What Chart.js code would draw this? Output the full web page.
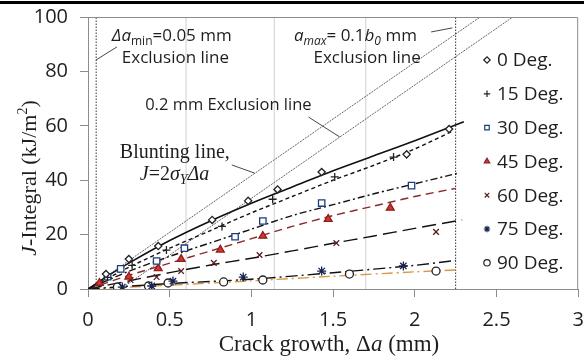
<!DOCTYPE html>
<html>
<head>
<meta charset="utf-8">
<script src="https://cdn.jsdelivr.net/npm/chart.js@4.4.1/dist/chart.umd.min.js"></script>
<style>
  html, body { margin: 0; padding: 0; background: #fff; }
  canvas { display: block; }
</style>
</head>
<body>
<canvas id="c" width="584" height="358"></canvas>
<script>
// measured points, [crack growth mm, J kJ/m2]
const labels = ['0 Deg.', '15 Deg.', '30 Deg.', '45 Deg.', '60 Deg.', '75 Deg.', '90 Deg.']
const pts0 = [[0.11, 5.5], [0.25, 11], [0.43, 15.8], [0.76, 25.4], [0.98, 32.4], [1.16, 36.6], [1.43, 43], [1.95, 49.5], [2.21, 58.8]]
const pts15 = [[0.12, 4.3], [0.27, 8.7], [0.48, 14.3], [0.82, 23], [1.13, 33], [1.51, 41.2], [1.87, 48.5]]
const pts30 = [[0.12, 4.5], [0.2, 7.4], [0.42, 10.3], [0.59, 15], [0.9, 19.2], [1.07, 25], [1.43, 31.6], [1.98, 38]]
const pts45 = [[0.07, 2.2], [0.25, 4.5], [0.43, 7.6], [0.57, 11], [0.81, 14.4], [1.07, 19.5], [1.47, 25.7], [1.85, 29.8]]
const pts60 = [[0.26, 3.3], [0.42, 4.4], [0.57, 6.6], [0.77, 9.6], [1.05, 12.5], [1.52, 16.9], [2.13, 21]]
const pts75 = [[0.21, 0.7], [0.39, 1.1], [0.52, 2.9], [0.95, 4.4], [1.43, 6.6], [1.93, 8.5]]
const pts90 = [[0.18, 0.7], [0.37, 1.1], [0.49, 2.2], [0.83, 2.6], [1.07, 3.3], [1.6, 5.5], [2.13, 6.6]]

// fitted curves
const fit0 = [[0, 0], [0.1, 4], [0.25, 9.5], [0.5, 17.8], [0.75, 25], [1, 31.5], [1.25, 37.5], [1.5, 43.5], [1.75, 49], [2, 54.5], [2.3, 61.5]]
const fit15 = [[0, 0], [0.25, 8], [0.5, 15], [0.75, 21.5], [1, 28], [1.25, 34], [1.5, 40], [1.75, 45.5], [2, 51.5], [2.23, 58]]
const fit30 = [[0, 0], [0.25, 6.5], [0.5, 12], [0.75, 17], [1, 22], [1.25, 27], [1.5, 31], [1.75, 35], [2, 38.7], [2.26, 42.5]]
const fit45 = [[0, 0], [0.25, 5], [0.5, 9.5], [0.75, 14], [1, 18.5], [1.25, 23], [1.5, 27], [1.75, 30.5], [2, 34], [2.25, 37]]
const fit60 = [[0, 0], [0.25, 3], [0.5, 6], [0.75, 8.8], [1, 11.3], [1.25, 14], [1.5, 16.8], [1.75, 19.5], [2, 22.3], [2.29, 25.4]]
const fit75 = [[0, 0], [0.5, 2], [1, 3.6], [1.5, 6], [2, 8.7], [2.25, 10.5]]
const fit90 = [[0, 0], [0.5, 1.4], [1, 3], [1.5, 4.7], [2, 6.3], [2.25, 7]]

// construction lines
const blunting = [[0, 0], [2.4, 100]]
const excl02 = [[0.2, 0], [2.6, 100]]
const exclMin = 0.05
const exclMax = 2.25
const greyLines = [0.6, 1.14, 1.7]

const xTicks = [0, 0.5, 1, 1.5, 2, 2.5, 3]
const yTicks = [0, 20, 40, 60, 80, 100]

const SANS = '"Open Sans", sans-serif'
const SERIF = '"Liberation Serif", "DejaVu Serif", serif'
const INK = '#1e1e1e'

const styles = [
  { marker: 'rectRot', mColor: '#222', fill: '#fff', r: 3.6, line: '#111', width: 1.6, dash: [] },
  { marker: 'cross', mColor: '#222', fill: '#fff', r: 4, line: '#111', width: 1.4, dash: [4, 3] },
  { marker: 'rect', mColor: '#1f3b80', fill: '#fff', r: 4.5, line: '#111', width: 1.4, dash: [7, 3, 2, 3] },
  { marker: 'triangle', mColor: '#8b1e1e', fill: '#d9342b', r: 4.5, line: '#8c2a2a', width: 1.4, dash: [8, 5] },
  { marker: 'crossRot', mColor: '#5a1e1e', fill: '#fff', r: 4, line: '#111', width: 1.4, dash: [14, 6] },
  { marker: 'star', mColor: '#1a2350', fill: '#fff', r: 4.5, line: '#111', width: 1.4, dash: [12, 4, 2, 4] },
  { marker: 'circle', mColor: '#222', fill: '#fff', r: 4, line: '#d49a4a', width: 1.4, dash: [11, 4, 2, 4] }
]

const allPts = [pts0, pts15, pts30, pts45, pts60, pts75, pts90]
const allFits = [fit0, fit15, fit30, fit45, fit60, fit75, fit90]

const xy = arr => arr.map(p => ({ x: p[0], y: p[1] }))

const datasets = []
greyLines.forEach(v => datasets.push({
  data: [{ x: v, y: 0 }, { x: v, y: 100 }], showLine: true, pointRadius: 0,
  borderColor: '#d0d0d0', borderWidth: 1, order: 50
}))
;[exclMin, exclMax].forEach(v => datasets.push({
  data: [{ x: v, y: 0 }, { x: v, y: 100 }], showLine: true, pointRadius: 0,
  borderColor: '#333', borderWidth: 1, borderDash: [1.5, 1.5], order: 40
}))
;[blunting, excl02].forEach(l => datasets.push({
  data: xy(l), showLine: true, pointRadius: 0,
  borderColor: '#555', borderWidth: 0.9, borderDash: [2, 1], order: 40
}))
allFits.forEach((f, i) => datasets.push({
  data: xy(f), showLine: true, pointRadius: 0, tension: 0.3,
  borderColor: styles[i].line, borderWidth: styles[i].width, borderDash: styles[i].dash, order: 20
}))
allPts.forEach((p, i) => datasets.push({
  label: labels[i], data: xy(p), showLine: false,
  pointStyle: styles[i].marker, pointRadius: styles[i].r,
  pointBorderColor: styles[i].mColor, pointBackgroundColor: styles[i].fill,
  pointBorderWidth: 1.3, order: 1, legendIdx: i
}))

function rich(ctx, x, y, segs, align) {
  let w = 0
  segs.forEach(s => { ctx.font = s.f; w += ctx.measureText(s.t).width })
  let cx = align === 'center' ? x - w / 2 : x
  segs.forEach(s => {
    ctx.font = s.f
    ctx.fillText(s.t, cx, y + (s.dy || 0))
    cx += ctx.measureText(s.t).width
  })
}

const sans = (sz, it) => (it ? 'italic ' : '') + sz + 'px ' + SANS
const serif = (sz, it) => (it ? 'italic ' : '') + sz + 'px ' + SERIF

// text notes in data coordinates
const notes = [
  { x: 0.146, y: 91.2, segs: [{ t: 'Δ', f: sans(17, true) }, { t: 'a', f: sans(17, true) }, { t: 'min', f: sans(12), dy: 4 }, { t: '=0.05 mm', f: sans(17) }] },
  { x: 0.207, y: 83, segs: [{ t: 'Exclusion line', f: sans(17) }] },
  { x: 1.26, y: 91.2, segs: [{ t: 'a', f: sans(17, true) }, { t: 'max', f: sans(12, true), dy: 4 }, { t: '= 0.1', f: sans(17) }, { t: 'b', f: sans(17, true) }, { t: '0', f: sans(12, true), dy: 4 }, { t: ' mm', f: sans(17) }] },
  { x: 1.38, y: 83, segs: [{ t: 'Exclusion line', f: sans(17) }] },
  { x: 0.35, y: 65.8, segs: [{ t: '0.2 mm Exclusion line', f: sans(16.5) }] },
  { x: 0.195, y: 48, segs: [{ t: 'Blunting line,', f: serif(20) }] },
  { x: 0.317, y: 40, segs: [{ t: 'J', f: serif(20, true) }, { t: '=2', f: serif(20) }, { t: 'σ', f: serif(20, true) }, { t: 'Y', f: serif(14, true), dy: 4 }, { t: 'Δa', f: serif(20, true) }] }
]
const leaders = [
  [[0.049, 84.2], [0.177, 89]],
  [[2.1, 94.5], [2.23, 96]],
  [[1.35, 63.2], [1.54, 55.9]],
  [[0.88, 45.6], [1.02, 42.6]]
]

const decor = {
  id: 'decor',
  beforeDraw(chart) {
    const ctx = chart.ctx
    ctx.save()
    ctx.fillStyle = '#000'
    ctx.fillRect(0, 1, chart.width, 3)
    ctx.restore()
  },
  afterDraw(chart) {
    const { ctx, chartArea: a, scales: { x, y } } = chart
    ctx.save()
    // box top and right
    ctx.strokeStyle = '#8c8c8c'
    ctx.lineWidth = 1
    ctx.beginPath()
    ctx.moveTo(a.left, a.top + 0.5); ctx.lineTo(a.right - 0.5, a.top + 0.5); ctx.lineTo(a.right - 0.5, a.bottom)
    ctx.stroke()

    ctx.strokeStyle = '#333'
    ctx.lineWidth = 0.9
    leaders.forEach(l => {
      ctx.beginPath()
      ctx.moveTo(x.getPixelForValue(l[0][0]), y.getPixelForValue(l[0][1]))
      ctx.lineTo(x.getPixelForValue(l[1][0]), y.getPixelForValue(l[1][1]))
      ctx.stroke()
    })

    ctx.fillStyle = INK
    ctx.textBaseline = 'alphabetic'
    ctx.textAlign = 'left'
    notes.forEach(n => rich(ctx, x.getPixelForValue(n.x), y.getPixelForValue(n.y), n.segs))

    // legend
    const h = Chart.helpers
    chart.data.datasets.forEach(ds => {
      if (ds.legendIdx === undefined) return
      const i = ds.legendIdx
      const cy = 60 + i * 33.8
      ctx.strokeStyle = ds.pointBorderColor
      ctx.fillStyle = ds.pointBackgroundColor
      ctx.lineWidth = 1.2
      h.drawPoint(ctx, { pointStyle: ds.pointStyle, radius: 3.2, rotation: 0, borderWidth: 1.2 }, 487, cy)
      ctx.fillStyle = INK
      ctx.font = sans(19)
      ctx.textBaseline = 'middle'
      ctx.fillText(ds.label, 497, cy + 1)
    })

    // axis titles
    ctx.textBaseline = 'alphabetic'
    ctx.fillStyle = INK
    rich(ctx, 329, 351, [
      { t: 'Crack growth, Δ', f: serif(23) }, { t: 'a', f: serif(23, true) }, { t: ' (mm)', f: serif(23) }
    ], 'center')
    ctx.translate(36, 178)
    ctx.rotate(-Math.PI / 2)
    rich(ctx, 0, 0, [
      { t: 'J', f: serif(22, true) }, { t: '-Integral (kJ/m', f: serif(22) }, { t: '2', f: serif(14), dy: -9 }, { t: ')', f: serif(22) }
    ], 'center')
    ctx.restore()
  }
}

new Chart(document.getElementById('c'), {
  type: 'scatter',
  data: { datasets },
  plugins: [decor],
  options: {
    responsive: false,
    animation: false,
    devicePixelRatio: 1,
    layout: { padding: { top: 17, right: 4, left: 0, bottom: 0 } },
    plugins: { legend: { display: false }, tooltip: { enabled: false } },
    scales: {
      x: {
        type: 'linear', min: 0, max: 3,
        afterBuildTicks: s => { s.ticks = xTicks.map(v => ({ value: v })) },
        afterFit: s => { s.height = 69; s.paddingRight = 0; s.paddingLeft = 0 },
        ticks: { font: { family: SANS, size: 20 }, color: INK, padding: 11, maxRotation: 0, callback: v => String(v) },
        grid: { drawOnChartArea: false, drawTicks: true, tickLength: 8, color: '#8c8c8c' },
        border: { color: '#8c8c8c', width: 1 }
      },
      y: {
        type: 'linear', min: 0, max: 100,
        afterBuildTicks: s => { s.ticks = yTicks.map(v => ({ value: v })) },
        afterFit: s => { s.width = 88; s.paddingTop = 0; s.paddingBottom = 0 },
        ticks: { font: { family: SANS, size: 20 }, color: INK, padding: 12, callback: v => String(v) },
        grid: { drawOnChartArea: false, drawTicks: true, tickLength: 8, color: '#8c8c8c' },
        border: { color: '#8c8c8c', width: 1 }
      }
    }
  }
})
</script>
</body>
</html>
